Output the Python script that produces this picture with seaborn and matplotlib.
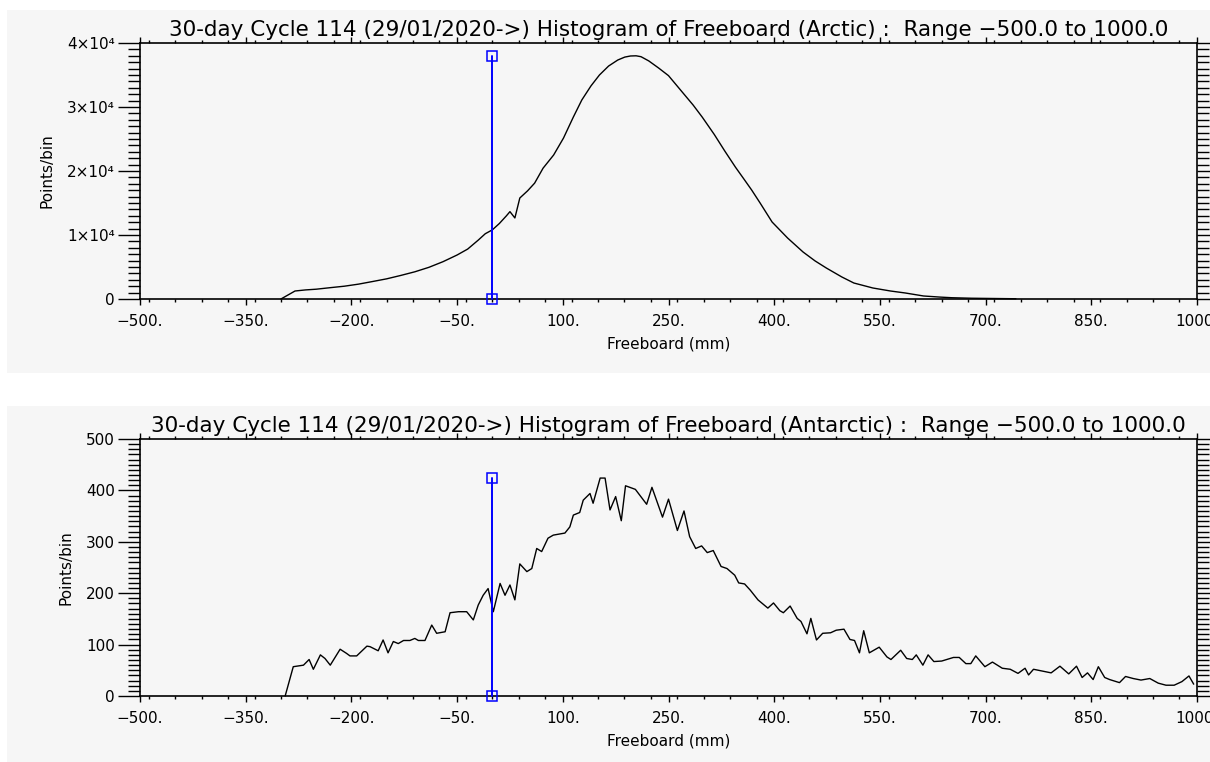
import numpy as np
import pandas as pd
import matplotlib
matplotlib.use('Agg')
import matplotlib.pyplot as plt
from matplotlib.patches import Rectangle
from matplotlib.ticker import MultipleLocator, FixedLocator, FixedFormatter
import seaborn as sns

# Arctic histogram (freeboard mm, points per bin)
arctic_mm = [-300, -292, -280, -265, -250, -230, -210, -190, -170, -150, -130, -110,
             -90, -70, -50, -35, -20, -10, 0, 10, 20, 25, 32, 39, 50, 60, 72, 87,
             101, 115, 127, 140, 152, 165, 178, 188, 196, 204, 211, 222, 236, 250,
             269, 285, 298, 315, 330, 345, 358, 368, 380, 397, 419, 441, 458, 474,
             496, 513, 540, 565, 586, 612, 635, 652, 680, 710, 743]
arctic_counts = [0, 500, 1250, 1420, 1530, 1770, 2000, 2320, 2730, 3150, 3680, 4250,
                 4950, 5830, 6875, 7800, 9200, 10200, 10800, 11800, 13000, 13650, 12660,
                 15780, 16900, 18100, 20440, 22500, 25150, 28440, 31100, 33300, 35000,
                 36400, 37340, 37800, 37970, 38000, 37860, 37200, 36090, 34900, 32400,
                 30300, 28400, 25700, 23100, 20600, 18590, 17030, 15000, 12030, 9530,
                 7340, 5950, 4840, 3440, 2500, 1720, 1250, 940, 470, 300, 200, 120, 80, 40]

# Antarctic histogram
antarctic_mm = [-294, -282.5, -268, -260, -254, -244, -237.5, -230, -216, -207, -202,
                -192.5, -178, -173.6, -162, -155, -148, -140.5, -133.5, -126, -117, -110,
                -105, -95.6, -86, -79, -67, -60, -48, -36.4, -27, -20, -13, -6, 1.4, 11,
                18, 25, 32, 39, 49, 56, 63, 70, 79, 86.5, 103, 110, 115, 124, 129, 138.6,
                143, 153, 160, 167, 175, 183, 189, 203, 219, 226.5, 241.5, 250, 262.6,
                272, 280, 288.6, 297, 305, 313.5, 324.6, 333, 344, 349.6, 358, 366, 377,
                391, 399, 408, 413, 422.6, 432.6, 438, 446.5, 452, 460, 468.8, 480, 488,
                499, 507.5, 514, 521, 527, 535, 549, 560, 565.7, 579.5, 588, 596, 601.6,
                611, 618.4, 626.6, 637.7, 654.4, 662.6, 672, 679, 686, 699, 709.7, 723.7,
                735, 746, 756, 761, 768, 779, 793, 805.5, 818, 829, 837, 844.6, 852.6,
                860, 869, 876, 890, 898.6, 909.5, 920.5, 933, 945, 956, 967.6, 978.6,
                988.6, 995.3]
antarctic_counts = [0, 57, 60, 71, 52, 80, 73, 60, 91, 83, 78, 78, 97, 96, 88, 109, 84,
                    106, 102, 108, 108, 112, 108, 108, 138, 122, 125, 162, 164, 164, 148,
                    177, 196, 209, 164, 219, 196, 216, 187, 257, 242, 248, 287, 281, 307,
                    313, 317, 329, 352, 357, 381, 394, 375, 424, 424, 362, 388, 341, 409,
                    402, 373, 406, 348, 383, 322, 360, 310, 287, 292, 279, 283, 252, 248,
                    235, 220, 218, 206, 187, 171, 181, 166, 162, 175, 151, 145, 121, 151,
                    109, 122, 123, 128, 130, 110, 108, 84, 127, 84, 95, 76, 71, 89, 73, 71,
                    80, 60, 80, 67, 68, 75, 75, 63, 63, 78, 57, 66, 54, 52, 44, 54, 41, 52,
                    49, 45, 58, 43, 58, 36, 45, 32, 57, 36, 32, 26, 38, 34, 31, 34, 25, 21,
                    21, 28, 39, 23]

# blue reference line at zero freeboard, up to the histogram maximum
marker_mm = 0
arctic_marker_top = 38000
antarctic_marker_top = 424

x_ticks = [-500, -350, -200, -50, 100, 250, 400, 550, 700, 850, 1000]
x_labels = ['\u2212500.', '\u2212350.', '\u2212200.', '\u221250.', '100.', '250.',
            '400.', '550.', '700.', '850.', '1000.']
arctic_yticks = [0, 10000, 20000, 30000, 40000]
arctic_ylabels = ['0', '1\u00d710\u2074', '2\u00d710\u2074', '3\u00d710\u2074', '4\u00d710\u2074']
antarctic_yticks = [0, 100, 200, 300, 400, 500]
antarctic_ylabels = ['0', '100', '200', '300', '400', '500']

titles = ['30-day Cycle 114 (29/01/2020->) Histogram of Freeboard (Arctic) :  Range \u2212500.0 to 1000.0',
          '30-day Cycle 114 (29/01/2020->) Histogram of Freeboard (Antarctic) :  Range \u2212500.0 to 1000.0']

sns.set_style('ticks')
plt.rcParams['font.family'] = ['DejaVu Sans']
bg = '#f6f6f6'

fig = plt.figure(figsize=(12.1, 7.62), dpi=100, facecolor='white')
W, H = 1210, 762
fig.patches.append(Rectangle((7 / W, 1 - 373 / H), 1, 363 / H, transform=fig.transFigure,
                             facecolor=bg, edgecolor='none', zorder=-10))
fig.patches.append(Rectangle((7 / W, 0), 1, 1 - 406 / H, transform=fig.transFigure,
                             facecolor=bg, edgecolor='none', zorder=-10))

ax1 = fig.add_axes([140 / W, 1 - 299 / H, 1057 / W, 256 / H])
ax2 = fig.add_axes([140 / W, 1 - 696 / H, 1057 / W, 257 / H])

panels = [
    (ax1, arctic_mm, arctic_counts, arctic_marker_top, 40000, 1000, arctic_yticks, arctic_ylabels, titles[0]),
    (ax2, antarctic_mm, antarctic_counts, antarctic_marker_top, 500, 10, antarctic_yticks, antarctic_ylabels, titles[1]),
]

for ax, xs, ys, mtop, ymax, yminor, yt, yl, title in panels:
    ax.set_zorder(2)
    ax.set_facecolor(bg)
    df = pd.DataFrame({'mm': xs, 'count': ys})
    sns.lineplot(data=df, x='mm', y='count', ax=ax, color='black', lw=1.0,
                 estimator=None, sort=False, clip_on=False)
    ax.plot([marker_mm, marker_mm], [0, mtop], color='#0000ff', lw=1.4,
            marker='s', markersize=7, mfc='none', mec='#0000ff', mew=1.1, clip_on=False, zorder=5)

    ax.set_xlim(-500, 1000)
    ax.set_ylim(0, ymax)
    ax.xaxis.set_major_locator(FixedLocator(x_ticks))
    ax.xaxis.set_major_formatter(FixedFormatter(x_labels))
    ax.xaxis.set_minor_locator(MultipleLocator(37.5))
    ax.yaxis.set_major_locator(FixedLocator(yt))
    ax.yaxis.set_major_formatter(FixedFormatter(yl))
    ax.yaxis.set_minor_locator(MultipleLocator(yminor))

    for s in ax.spines.values():
        s.set_visible(True)
        s.set_color('black')
        s.set_linewidth(1.2)

    ax.tick_params(axis='x', which='both', direction='out', top=True, bottom=True,
                   labeltop=False, colors='black', width=1.0, labelsize=11, pad=7)
    ax.tick_params(axis='x', which='major', length=4)
    ax.tick_params(axis='x', which='minor', length=2.2)
    ax.tick_params(axis='y', which='both', direction='out', left=True, right=True,
                   labelright=False, colors='black', width=1.0, labelsize=11, pad=2)
    ax.tick_params(axis='y', which='major', length=16)
    ax.tick_params(axis='y', which='minor', length=8.6)

    ax.set_xlabel('Freeboard (mm)', fontsize=11, labelpad=5, color='black')
    ax.set_ylabel('Points/bin', fontsize=11, labelpad=9, color='black')
    ax.set_title(title, fontsize=15.5, pad=5, color='black')

fig.savefig('out.png', dpi=100, facecolor='white')
